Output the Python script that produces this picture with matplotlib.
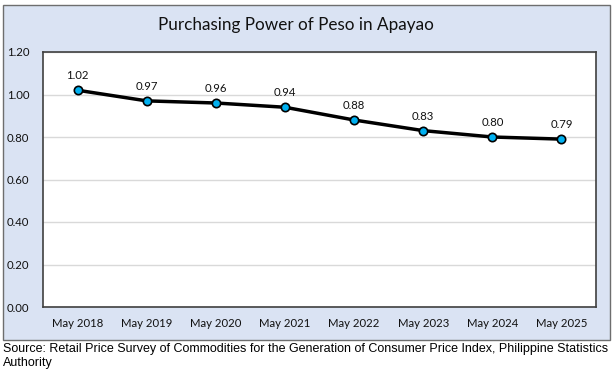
import matplotlib
matplotlib.use("Agg")
import matplotlib.pyplot as plt
from matplotlib.patches import Rectangle

categories = ["May 2018", "May 2019", "May 2020", "May 2021", "May 2022", "May 2023", "May 2024", "May 2025"]
values = [1.02, 0.97, 0.96, 0.94, 0.88, 0.83, 0.80, 0.79]
yticks = [0.0, 0.2, 0.4, 0.6, 0.8, 1.0, 1.2]

W, H = 613, 371
fig = plt.figure(figsize=(W / 100, H / 100), dpi=100)
fig.patch.set_facecolor("white")

font = "Lato"

# outer chart box
fig.patches.append(Rectangle((3 / W, 1 - 340 / H), 607 / W, 335 / H, transform=fig.transFigure,
                             facecolor="#DAE3F3", edgecolor="#6E6E6E", linewidth=1.0, zorder=-5))

ax = fig.add_axes([43 / W, 1 - 307 / H, 553 / W, 255 / H])
ax.set_zorder(2)
ax.set_facecolor("white")
x = list(range(len(categories)))
ax.plot(x, values, color="black", linewidth=2.5, marker="o", markersize=6,
        markerfacecolor="#00B0F0", markeredgecolor="black", markeredgewidth=1.2, zorder=3)
for xi, v in zip(x, values):
    ax.annotate(f"{v:.2f}", (xi, v), xytext=(0, 6.5), textcoords="offset points",
                ha="center", va="bottom", fontsize=8.2, family=font, color="#111111")

ax.set_xlim(-0.5, len(categories) - 0.5)
ax.set_ylim(0, 1.2)
ax.set_yticks(yticks)
ax.set_yticklabels([f"{t:.2f}" for t in yticks], family=font, fontsize=8.2)
ax.set_xticks(x)
ax.set_xticklabels(categories, family=font, fontsize=8.2)
ax.tick_params(length=0, pad=8, colors="#111111")
ax.tick_params(axis="y", pad=10)
ax.grid(axis="y", color="#D9D9D9", linewidth=1.0)
ax.set_axisbelow(True)
for s in ax.spines.values():
    s.set_color("#404040")
    s.set_linewidth(1.2)

fig.text(296 / W, 1 - 25 / H, "Purchasing Power of Peso in Apayao", ha="center", va="center",
         fontsize=12.3, family=font, color="#111111")

fig.text(3 / W, 1 - 349 / H, "Source: Retail Price Survey of Commodities for the Generation of Consumer Price Index, Philippine Statistics",
         ha="left", va="center", fontsize=9, family="Liberation Sans")
fig.text(3 / W, 1 - 363 / H, "Authority", ha="left", va="center", fontsize=9, family="Liberation Sans")

fig.savefig("out.png", dpi=100)
